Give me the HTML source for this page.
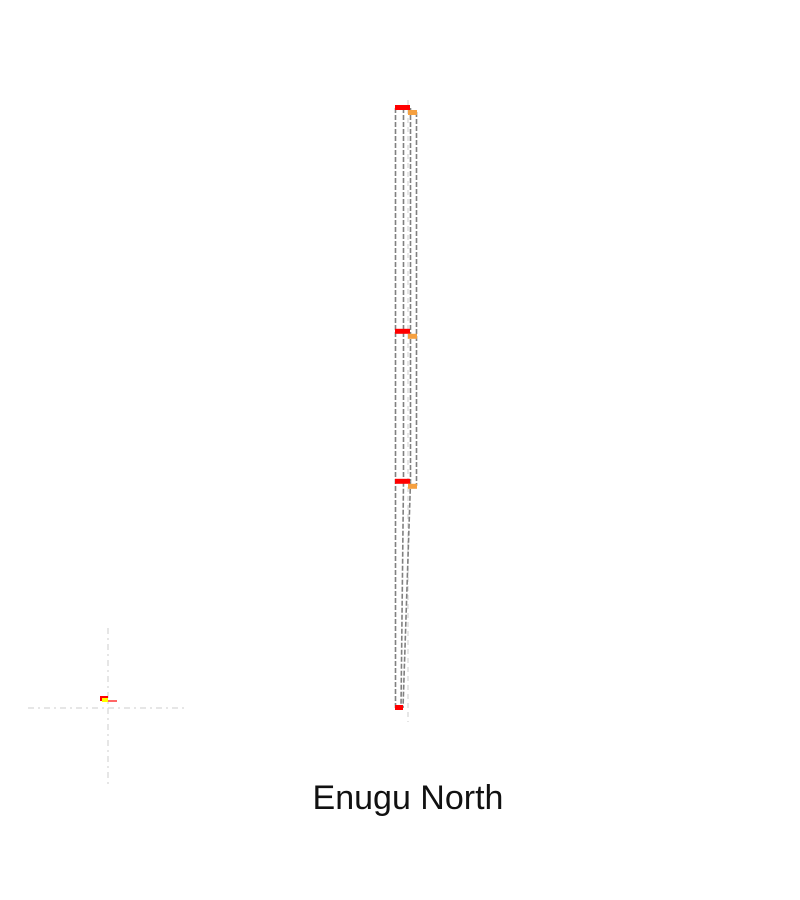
<!DOCTYPE html>
<html><head><meta charset="utf-8"><style>
body{margin:0;background:#fff;width:800px;height:900px;overflow:hidden}
svg{display:block}
</style></head><body>
<svg id="chart" width="800" height="900" viewBox="0 0 800 900">
<g id="marks"></g>
<text x="408" y="809" text-anchor="middle" font-family="'Liberation Sans',sans-serif" font-size="34" fill="#111">Enugu North</text>
</svg>
<script>
const levels = ['L1','L2','L3','L4'];
const levelValues = [100, 62.7, 37.7, 0];
const barWidths = [15, 15, 15, 8];
const orangeShown = [1, 1, 1, 0];
function yScale(v){return 708 - v*6;}
const NS='http://www.w3.org/2000/svg';
const g=document.getElementById('marks');
function mk(t,a){const e=document.createElementNS(NS,t);for(const k in a)e.setAttribute(k,a[k]);g.appendChild(e);return e;}
let e=mk('line',{x1:28,y1:708,x2:188,y2:708,stroke:'#ddd','stroke-width':1.5,'stroke-dasharray':'6 4 2 4'});


e=mk('line',{x1:108,y1:628,x2:108,y2:788,stroke:'#ddd','stroke-width':1.5,'stroke-dasharray':'6 4 2 4'});


e=mk('rect',{x:100,y:696,width:8,height:5,fill:'#f00'});


e=mk('rect',{x:102,y:698,width:6,height:4,fill:'#ff0'});


e=mk('line',{x1:108,y1:701,x2:117,y2:701,stroke:'#f33','stroke-width':1.5});


e=mk('line',{x1:408,y1:100,x2:408,y2:722,stroke:'#ddd','stroke-width':1.5,'stroke-dasharray':'5 4'});


const topY=yScale(levelValues[0]), y3=yScale(levelValues[2]), bot=yScale(levelValues[3]);
const lines=[[395.5,topY,395.5,bot],[403.5,topY,403.5,y3],[403.5,y3,401,bot],[410.5,topY,410.5,y3],[410.5,y3,403,bot],[416.5,topY+4,416.5,y3+4]];
lines.forEach((l,i)=>{
 const ln=mk('line',{x1:l[0],y1:l[1],x2:l[2],y2:l[3],stroke:'#808080','stroke-width':1.6,'stroke-dasharray':'5 2'});
 
 
});
levels.forEach((c,i)=>{
 const y=yScale(levelValues[i]);
 const r=mk('rect',{x:395,y:y-3,width:barWidths[i],height:5,fill:'#f00'});
 
 
 if(orangeShown[i]){
  const o=mk('rect',{x:408,y:y+2,width:9,height:5,fill:'#f5a040'});
  
  
 }
});
</script>
</body></html>
